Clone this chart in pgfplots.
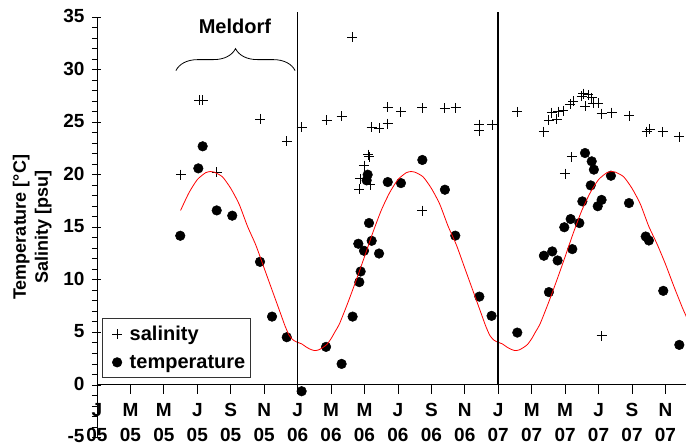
\documentclass[border=0pt]{standalone}
\usepackage{pgfplots}
\pgfplotsset{compat=1.18}
\usepackage{fontspec}
\setmainfont{Liberation Sans}
\usetikzlibrary{decorations.pathreplacing}

\begin{document}
\begin{tikzpicture}
\begin{axis}[
  at={(0,0)}, anchor=south west,
  scale only axis, width=589pt, height=420.5pt,
  xmin=0, xmax=35.23, ymin=-5, ymax=35,
  axis x line=middle, axis y line=left,
  axis line style={-, line width=0.9pt},
  hide obscured x ticks=false, hide obscured y ticks=false,
  clip mode=individual,
  xtick={0,2,...,34},
  xticklabels={{J\\05},{M\\05},{M\\05},{J\\05},{S\\05},{N\\05},{J\\06},{M\\06},{M\\06},{J\\06},{S\\06},{N\\06},{J\\07},{M\\07},{M\\07},{J\\07},{S\\07},{N\\07}},
  ytick={-5,0,...,35},
  minor y tick num=4,
  tick align=outside,
  major tick length=9pt,
  minor tick length=5pt,
  major y tick style={xshift=4.5pt},
  tick style={black, line width=0.8pt},
  xticklabel style={align=center, font=\bfseries\fontsize{19}{25}\selectfont, yshift=-6pt},
  yticklabel style={font=\bfseries\fontsize{19}{19}\selectfont, /pgf/number format/assume math mode=true, yshift=1pt},
  ylabel={Temperature [°C]\\Salinity [psu]},
  every axis y label/.style={at={(axis description cs:-0.11,0.5)}, anchor=center, rotate=90, align=center, font=\bfseries\fontsize{18}{22}\selectfont},
  legend style={at={(axis cs:0.32,6.35)}, anchor=north west, draw=black!80, line width=0.8pt,
    font=\bfseries\fontsize{20}{20}\selectfont, inner xsep=3pt, inner ysep=5.5pt, row sep=9pt},
  legend image code/.code={\path[draw=none] (0pt,0pt) -- (22pt,0pt); \draw[#1, only marks] plot coordinates {(11.4pt,0pt)};},
  legend cell align=left,
]
% salinity
\addplot[only marks, mark=+, mark size=5pt, black, line width=0.9pt] coordinates {
(5.02,20.0) (6.12,27.1) (6.32,27.1) (7.16,20.25) (9.75,25.3) (11.35,23.2)
(12.24,24.5) (13.74,25.2) (14.63,25.55) (15.27,33.1)
(16.23,21.9) (16.29,21.7) (15.97,20.86) (15.73,19.6) (16.33,19.05) (15.69,18.64)
(16.43,24.5) (16.87,24.4) (17.39,26.4) (17.39,24.85) (18.18,25.97)
(19.46,26.35) (19.46,16.57) (20.81,26.3) (21.45,26.35)
(22.85,24.76) (22.85,24.2) (23.64,24.76) (25.14,25.97)
(26.73,24.1) (27.03,25.2) (27.2,25.9) (27.5,25.3) (27.6,26.0) (27.9,26.1)
(28.3,26.7) (28.5,27.0) (28.99,27.46) (29.09,27.7) (29.19,26.5) (29.38,27.6)
(29.59,27.3) (29.68,26.8) (29.98,26.8) (30.18,25.8) (30.78,25.9) (31.84,25.6)
(27.99,20.1) (28.4,21.7) (30.18,4.67)
(32.88,24.1) (33.07,24.3) (33.83,24.07) (34.81,23.6) (35.33,18.67)
};
\addlegendentry{salinity}
% temperature
\addplot[only marks, mark=*, mark size=4.8pt, black, line width=0.5pt] coordinates {
(4.98,14.19) (6.06,20.6) (6.32,22.7) (7.16,16.6) (8.09,16.1) (9.75,11.71)
(10.47,6.5) (11.35,4.54) (12.24,-0.6) (13.7,3.62) (14.63,2.0) (15.29,6.5)
(15.69,9.78) (15.77,10.79) (15.63,13.43) (15.97,12.76) (16.43,13.71) (16.87,12.5)
(16.27,15.4) (16.19,20.0) (16.13,19.46) (17.39,19.3) (18.18,19.2) (19.46,21.4)
(20.81,18.57) (21.43,14.2) (22.87,8.4) (23.6,6.57) (25.14,4.98)
(27.03,8.83) (26.73,12.29) (27.23,12.7) (27.55,11.84) (28.43,12.92)
(27.95,15.0) (28.33,15.78) (28.85,15.4) (29.03,17.46) (29.53,18.98)
(29.95,17.0) (30.18,17.6) (29.19,22.06) (29.59,21.27) (29.72,20.48)
(30.74,19.9) (31.82,17.3) (32.82,14.12) (33.01,13.74) (33.87,8.95)
(34.83,3.81) (35.33,5.17)
};
\addlegendentry{temperature}
% fitted curve
\addplot[red, line width=0.8pt, smooth, tension=0.4, forget plot] coordinates {
(5.0,16.6) (5.5,18.28) (6.0,19.53) (6.5,20.19) (6.8,20.3) (7.0,20.25) (7.5,19.8)
(8.0,18.7) (8.5,17.2) (9.0,15.1) (9.5,13.3) (10.0,11.1) (10.5,8.9) (11.0,6.7)
(11.25,5.6) (11.5,4.7) (11.75,4.25) (12.0,4.05)
(12.25,3.9) (12.5,3.62) (12.75,3.4) (13.0,3.27) (13.25,3.33) (13.5,3.55) (13.75,3.85)
(14.0,4.4) (14.25,5.1) (14.5,5.8) (15.0,7.8) (15.5,9.95) (16.0,12.2) (16.5,14.5)
(17.0,16.6) (17.5,18.28) (18.0,19.53) (18.5,20.19) (18.8,20.3) (19.0,20.25) (19.5,19.8)
(20.0,18.7) (20.5,17.2) (21.0,15.1) (21.5,13.3) (22.0,11.1) (22.5,8.9) (23.0,6.7)
(23.25,5.6) (23.5,4.7) (23.75,4.25) (24.0,4.05)
(24.25,3.9) (24.5,3.62) (24.75,3.4) (25.0,3.27) (25.25,3.33) (25.5,3.55) (25.75,3.85)
(26.0,4.4) (26.25,5.1) (26.5,5.8) (27.0,7.8) (27.5,9.95) (28.0,12.2) (28.5,14.5)
(29.0,16.6) (29.5,18.28) (30.0,19.53) (30.5,20.19) (30.8,20.3) (31.0,20.25) (31.5,19.8)
(32.0,18.7) (32.5,17.2) (33.0,15.1) (33.5,13.4) (34.0,11.5) (34.5,9.4) (35.0,7.4)
(35.25,6.5) (35.5,5.6)
};
\draw[black, line width=1pt] (axis cs:12,0) -- (axis cs:12,35.5);
\draw[black, line width=2pt] (axis cs:24,0) -- (axis cs:24,35.5);
\draw[black, line width=0.8pt, decorate, decoration={brace, amplitude=22pt}] (axis cs:4.72,29.9) -- (axis cs:11.85,29.9);
\node[font=\bfseries\fontsize{20}{20}\selectfont] at (axis cs:8.25,34.1) {Meldorf};
\end{axis}
\pgfresetboundingbox
\path (-97pt,-8.5pt) rectangle (589pt,437.5pt);
\end{tikzpicture}
\end{document}
